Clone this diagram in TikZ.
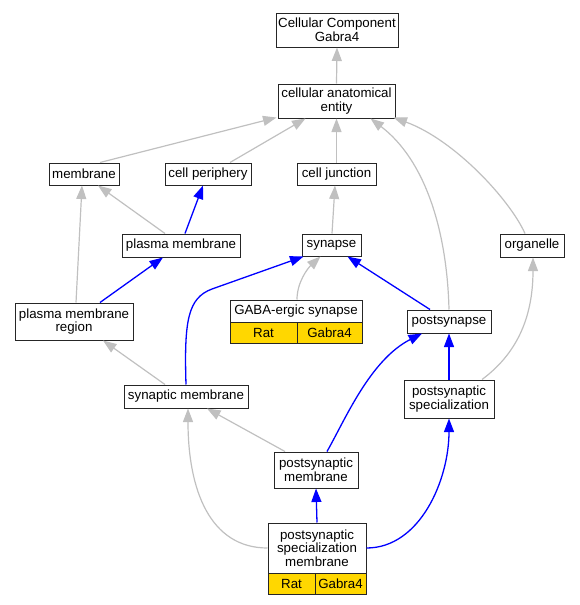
\documentclass[tikz,border=0pt]{standalone}
\usepackage{fontspec}
\setmainfont{Liberation Sans}
\usetikzlibrary{arrows.meta}
\definecolor{gedge}{HTML}{C0C0C0}
\definecolor{gold}{HTML}{FFD700}
\begin{document}
\begin{tikzpicture}[x=1pt,y=-1pt,
  box/.style={draw=black!85, line width=1pt, fill=white, inner sep=0pt, align=center,
    font=\fontsize{13.3}{13.6}\selectfont},
  cell/.style={box, fill=gold},
  grayedge/.style={draw=gedge, line width=1.2pt, -{Triangle[length=13.5pt,width=10pt]}},
  blueedge/.style={draw=blue, line width=1.3pt, -{Triangle[length=13.5pt,width=10pt]}}]
\useasboundingbox (0,0) rectangle (579,605);
% nodes
\node[box, minimum width=122, minimum height=34] (cc) at (337,30) {Cellular Component\\Gabra4};
\node[box, minimum width=117, minimum height=34] (cae) at (336.5,101) {cellular anatomical\\entity};
\node[box, minimum width=70, minimum height=22] (mem) at (84,174) {membrane};
\node[box, minimum width=86, minimum height=22] (cp) at (208,174) {cell periphery};
\node[box, minimum width=79, minimum height=22] (cj) at (336.5,174) {cell junction};
\node[box, minimum width=118, minimum height=23] (pm) at (181,245.5) {plasma membrane};
\node[box, minimum width=59, minimum height=22] (syn) at (331.5,245) {synapse};
\node[box, minimum width=64, minimum height=23] (org) at (532,245.5) {organelle};
\node[box, minimum width=118, minimum height=37] (pmr) at (74,321.5) {plasma membrane\\region};
\node[box, minimum width=132, minimum height=22] (gaba) at (296,311) {GABA-ergic synapse};
\node[cell, minimum width=67, minimum height=21] (gabarat) at (263.5,332.5) {Rat};
\node[cell, minimum width=65, minimum height=21] (gabagene) at (329.5,332.5) {Gabra4};
\node[box, minimum width=84, minimum height=23] (psyn) at (449,321.5) {postsynapse};
\node[box, minimum width=124, minimum height=23] (sm) at (186,396.5) {synaptic membrane};
\node[box, minimum width=90, minimum height=38] (ps) at (449,399) {postsynaptic\\specialization};
\node[box, minimum width=84, minimum height=36] (pmem) at (316,470) {postsynaptic\\membrane};
\node[box, minimum width=98, minimum height=50] (psm) at (317,548) {postsynaptic\\specialization\\membrane};
\node[cell, minimum width=47, minimum height=21] (psmrat) at (291.5,583.5) {Rat};
\node[cell, minimum width=51, minimum height=21] (psmgene) at (340.5,583.5) {Gabra4};
% gray edges
\draw[grayedge] (cae.north) -- (cc.south);
\draw[grayedge] ([xshift=16pt]mem.north) -- ([xshift=-1pt,yshift=1pt]cae.south west);
\draw[grayedge] ([xshift=22pt]cp.north) -- ([xshift=-31pt]cae.south);
\draw[grayedge] (cj.north) -- (cae.south);
\draw[grayedge] (psyn.north) .. controls (447,230) and (425,160) .. ([xshift=34pt]cae.south);
\draw[grayedge] ([xshift=-7pt]org.north) .. controls (510,200) and (455,140) .. ([xshift=-2pt,yshift=1pt]cae.south east);
\draw[grayedge] ([xshift=-16pt]pm.north) -- ([xshift=14pt]mem.south);
\draw[grayedge] ([xshift=2pt]pmr.north) -- ([xshift=-2pt]mem.south);
\draw[grayedge] ([xshift=0.5pt]syn.north) -- ([xshift=-1.5pt]cj.south);
\draw[grayedge] ([xshift=1pt]gaba.north) .. controls (297,282) and (308,268) .. ([xshift=-11pt]syn.south);
\draw[grayedge] ([xshift=33pt]ps.north) .. controls (515,355) and (533,320) .. ([xshift=1pt]org.south);
\draw[grayedge] ([xshift=-21pt]sm.north) -- ([xshift=29pt]pmr.south);
\draw[grayedge] ([xshift=-31pt]pmem.north) -- ([xshift=21pt]sm.south);
\draw[grayedge] (psm.west) .. controls (210,548) and (188,490) .. ([xshift=2pt]sm.south);
% blue edges
\draw[blueedge] ([xshift=4pt]pm.north) -- ([xshift=-5pt]cp.south);
\draw[blueedge] ([xshift=26pt]pmr.north) -- ([xshift=-18pt]pm.south);
\draw[blueedge] ([xshift=-19pt]psyn.north) -- ([xshift=16pt]syn.south);
\draw[blueedge] (sm.north) .. controls (184,320) and (188,298) .. (212,289) -- ([xshift=-28pt]syn.south);
\draw[blueedge] (ps.north) -- (psyn.south);
\draw[blueedge] ([xshift=11pt]pmem.north) .. controls (345,420) and (370,360) .. ([xshift=-27pt]psyn.south);
\draw[blueedge] (psm.east) .. controls (420,548) and (449,480) .. (ps.south);
\draw[blueedge] (psm.north) -- (pmem.south);
\end{tikzpicture}
\end{document}
